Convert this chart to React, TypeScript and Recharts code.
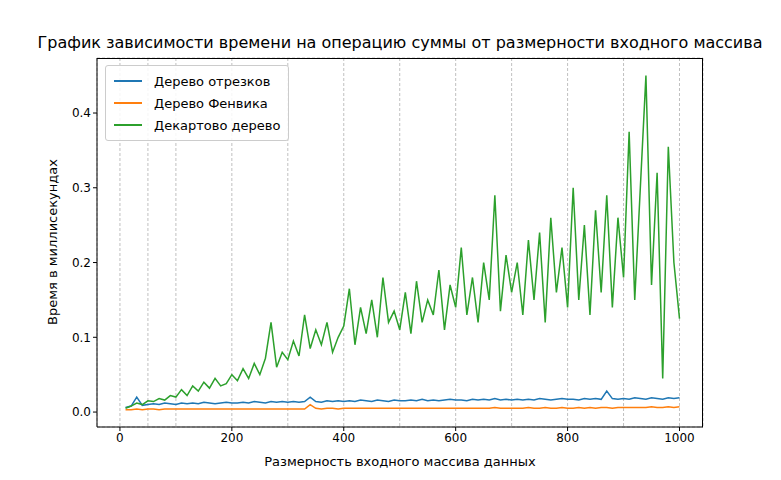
import { LineChart, Line, XAxis, YAxis, CartesianGrid } from 'recharts';

const sizes = Array.from({ length: 100 }, (_, i) => (i + 1) * 10);

const segmentTree = [
  0.006, 0.008, 0.020, 0.009, 0.010, 0.011, 0.010, 0.012, 0.011, 0.010,
  0.012, 0.011, 0.012, 0.011, 0.013, 0.012, 0.011, 0.012, 0.013, 0.012,
  0.012, 0.013, 0.012, 0.014, 0.013, 0.012, 0.014, 0.013, 0.014, 0.013,
  0.014, 0.013, 0.014, 0.020, 0.014, 0.013, 0.015, 0.014, 0.015, 0.014,
  0.015, 0.014, 0.016, 0.015, 0.014, 0.016, 0.015, 0.014, 0.016, 0.015,
  0.015, 0.016, 0.015, 0.017, 0.015, 0.016, 0.015, 0.016, 0.017, 0.016,
  0.016, 0.015, 0.017, 0.016, 0.017, 0.016, 0.018, 0.016, 0.017, 0.016,
  0.017, 0.016, 0.017, 0.016, 0.018, 0.017, 0.016, 0.017, 0.018, 0.017,
  0.017, 0.016, 0.018, 0.017, 0.018, 0.017, 0.028, 0.018, 0.017, 0.018,
  0.017, 0.019, 0.018, 0.017, 0.019, 0.018, 0.017, 0.019, 0.018, 0.019,
];

const fenwickTree = [
  0.003, 0.003, 0.004, 0.003, 0.004, 0.004, 0.003, 0.004, 0.004, 0.004,
  0.004, 0.004, 0.004, 0.004, 0.004, 0.004, 0.004, 0.004, 0.004, 0.004,
  0.004, 0.004, 0.004, 0.004, 0.004, 0.004, 0.004, 0.004, 0.004, 0.004,
  0.004, 0.004, 0.004, 0.010, 0.005, 0.004, 0.005, 0.005, 0.004, 0.005,
  0.005, 0.005, 0.005, 0.005, 0.005, 0.005, 0.005, 0.005, 0.005, 0.005,
  0.005, 0.005, 0.005, 0.005, 0.005, 0.005, 0.005, 0.005, 0.005, 0.005,
  0.005, 0.005, 0.005, 0.005, 0.005, 0.005, 0.006, 0.005, 0.005, 0.005,
  0.005, 0.005, 0.006, 0.005, 0.005, 0.006, 0.005, 0.005, 0.006, 0.005,
  0.005, 0.006, 0.005, 0.006, 0.005, 0.006, 0.006, 0.005, 0.006, 0.006,
  0.006, 0.006, 0.006, 0.006, 0.007, 0.006, 0.006, 0.007, 0.006, 0.007,
];

const cartesianTree = [
  0.005, 0.008, 0.012, 0.010, 0.015, 0.014, 0.018, 0.016, 0.022, 0.020,
  0.030, 0.022, 0.035, 0.028, 0.040, 0.032, 0.045, 0.035, 0.038, 0.050,
  0.042, 0.058, 0.045, 0.065, 0.050, 0.072, 0.120, 0.060, 0.080, 0.070,
  0.095, 0.075, 0.130, 0.085, 0.110, 0.090, 0.120, 0.080, 0.100, 0.115,
  0.165, 0.090, 0.140, 0.105, 0.150, 0.100, 0.180, 0.120, 0.135, 0.110,
  0.160, 0.105, 0.175, 0.120, 0.150, 0.130, 0.190, 0.110, 0.170, 0.140,
  0.220, 0.130, 0.180, 0.120, 0.200, 0.150, 0.290, 0.135, 0.210, 0.160,
  0.200, 0.130, 0.230, 0.150, 0.240, 0.120, 0.260, 0.160, 0.220, 0.140,
  0.300, 0.150, 0.250, 0.130, 0.270, 0.160, 0.290, 0.140, 0.260, 0.180,
  0.375, 0.150, 0.300, 0.450, 0.170, 0.320, 0.045, 0.355, 0.200, 0.125,
];

const xTicks = [0, 200, 400, 600, 800, 1000];
const yTicks = [0, 0.1, 0.2, 0.3, 0.4];
const xMinor = Array.from({ length: 21 }, (_, i) => i * 50);
const yMinor = Array.from({ length: 24 }, (_, i) => i * 0.02);

const series = [
  { key: 'seg', name: 'Дерево отрезков', color: '#1f77b4' },
  { key: 'fen', name: 'Дерево Фенвика', color: '#ff7f0e' },
  { key: 'cart', name: 'Декартово дерево', color: '#2ca02c' },
];

const data = sizes.map((n, i) => ({
  n,
  seg: segmentTree[i],
  fen: fenwickTree[i],
  cart: cartesianTree[i],
}));

const font = 'DejaVu Sans, sans-serif';

export default function App() {
  return (
    <div style={{ position: 'absolute', left: 0, top: 0, width: 781, height: 480, fontFamily: font, background: '#fff' }}>
      <div style={{ position: 'absolute', top: 33, left: 0, width: 800, textAlign: 'center', fontSize: 16 }}>
        График зависимости времени на операцию суммы от размерности входного массива
      </div>
      <LineChart width={781} height={480} data={data} margin={{ top: 58, right: 78, left: 47, bottom: 23 }}>
        <XAxis xAxisId="g" dataKey="n" type="number" domain={[-41, 1042]} ticks={xMinor} hide />
        <YAxis yAxisId="g" type="number" domain={[-0.02, 0.4736]} ticks={yMinor} hide />
        <CartesianGrid xAxisId="g" yAxisId="g" stroke="#b0b0b0" strokeDasharray="3 2" strokeWidth={0.8} />
        <XAxis dataKey="n" type="number" domain={[-41, 1042]} ticks={xTicks} height={30}
          tick={{ fill: '#000', fontSize: 12, fontFamily: font }} stroke="#000" tickSize={4} />
        <YAxis type="number" domain={[-0.02, 0.4736]} ticks={yTicks} width={50} tickFormatter={(v: number) => v.toFixed(1)}
          tick={{ fill: '#000', fontSize: 12, fontFamily: font }} stroke="#000" tickSize={4} />
        {series.map((s) => (
          <Line key={s.key} dataKey={s.key} name={s.name} stroke={s.color} strokeWidth={1.5} dot={false} isAnimationActive={false} />
        ))}
      </LineChart>
      {/* top and right spines */}
      <div style={{ position: 'absolute', left: 97, top: 58, width: 606, height: 369, border: '1px solid #000', borderLeft: 'none', borderBottom: 'none', boxSizing: 'border-box', pointerEvents: 'none' }} />
      <div style={{ position: 'absolute', left: 105, top: 65, padding: '4px 8px', border: '1px solid #ccc', borderRadius: 3, background: 'rgba(255,255,255,0.85)', fontSize: 13 }}>
        {series.map((s) => (
          <div key={s.key} style={{ display: 'flex', alignItems: 'center', height: 22 }}>
            <span style={{ width: 28, height: 2, background: s.color, marginRight: 12 }} />
            {s.name}
          </div>
        ))}
      </div>
      <div style={{ position: 'absolute', top: 454, left: 97, width: 606, textAlign: 'center', fontSize: 13 }}>
        Размерность входного массива данных
      </div>
      <div style={{ position: 'absolute', left: 52, top: 242, transform: 'translate(-50%, -50%) rotate(-90deg)', whiteSpace: 'nowrap', fontSize: 13 }}>
        Время в миллисекундах
      </div>
    </div>
  );
}
